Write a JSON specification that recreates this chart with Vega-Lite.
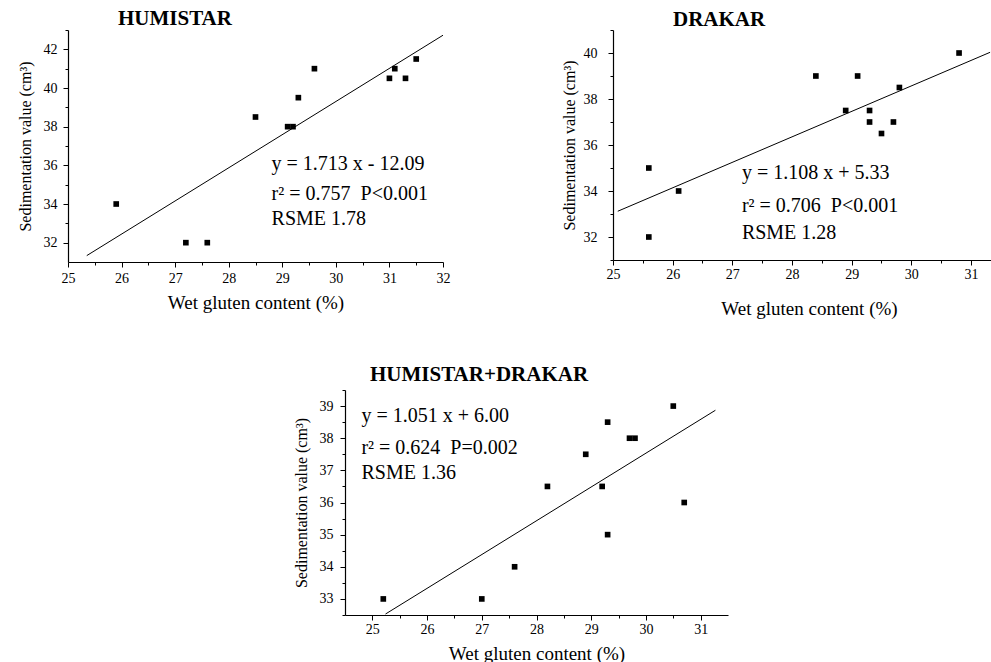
{
  "$schema": "https://vega.github.io/schema/vega-lite/v6.json",
  "padding": {"left": 17, "top": 7, "right": 0, "bottom": 0},
  "background": "white",
  "datasets": {
    "h_pts": [{"x":25.9,"y":34},{"x":27.2,"y":32},{"x":27.6,"y":32},{"x":28.5,"y":38.5},{"x":29.1,"y":38},{"x":29.2,"y":38},{"x":29.3,"y":39.5},{"x":29.6,"y":41},{"x":31.0,"y":40.5},{"x":31.1,"y":41},{"x":31.3,"y":40.5},{"x":31.5,"y":41.5}],
    "h_fit": [{"x":25.35,"y":31.33},{"x":32,"y":42.73}],
    "h_txt": [{"x":28.8,"y":36.07,"label":"y = 1.713 x - 12.09"},{"x":28.8,"y":34.52,"label":"r² = 0.757\u00a0 P<0.001"},{"x":28.8,"y":33.22,"label":"RSME 1.78"}],
    "d_pts": [{"x":25.6,"y":35},{"x":25.6,"y":32},{"x":26.1,"y":34},{"x":28.4,"y":39},{"x":28.9,"y":37.5},{"x":29.1,"y":39},{"x":29.3,"y":37.5},{"x":29.3,"y":37},{"x":29.5,"y":36.5},{"x":29.7,"y":37},{"x":29.8,"y":38.5},{"x":30.8,"y":40}],
    "d_fit": [{"x":25.08,"y":33.12},{"x":31.32,"y":40.03}],
    "d_txt": [{"x":27.16,"y":34.77,"label":"y = 1.108 x + 5.33"},{"x":27.16,"y":33.35,"label":"r² = 0.706\u00a0 P<0.001"},{"x":27.16,"y":32.16,"label":"RSME 1.28"}],
    "hd_pts": [{"x":25.2,"y":33},{"x":27.0,"y":33},{"x":27.6,"y":34},{"x":28.2,"y":36.5},{"x":28.9,"y":37.5},{"x":29.2,"y":36.5},{"x":29.3,"y":38.5},{"x":29.3,"y":35},{"x":29.7,"y":38},{"x":29.8,"y":38},{"x":30.5,"y":39},{"x":30.7,"y":36}],
    "hd_fit": [{"x":25.24,"y":32.53},{"x":31.27,"y":38.87}],
    "hd_txt": [{"x":24.8,"y":38.69,"label":"y = 1.051 x + 6.00"},{"x":24.8,"y":37.7,"label":"r² = 0.624\u00a0 P=0.002"},{"x":24.8,"y":36.92,"label":"RSME 1.36"}]
  },
  "vconcat": [
    {
      "hconcat": [
        {
          "width": 375, "height": 232,
          "title": {"text": "HUMISTAR", "anchor": "start", "frame": "group", "dx": 50, "offset": 1},
          "layer": [
            {"data": {"name": "h_pts"}, "mark": {"type": "square", "size": 32, "color": "black", "opacity": 1},
             "encoding": {
               "x": {"field": "x", "type": "quantitative", "scale": {"domain": [25, 32], "nice": false, "zero": false},
                     "axis": {"values": [25,26,27,28,29,30,31,32], "tickSize": 5, "title": "Wet gluten content (%)", "labelPadding": 4, "titlePadding": 8}},
               "y": {"field": "y", "type": "quantitative", "scale": {"domain": [31, 43], "nice": false, "zero": false},
                     "axis": {"values": [32,34,36,38,40,42], "tickSize": 5, "title": "Sedimentation value (cm³)", "labelPadding": 6, "titlePadding": 10}}
             }},
            {"data": {"name": "h_fit"}, "mark": {"type": "line", "color": "black", "strokeWidth": 1},
             "encoding": {
               "x": {"field": "x", "type": "quantitative", "scale": {"domain": [25, 32], "nice": false, "zero": false},
                     "axis": {"orient": "bottom", "values": [25.5,26.5,27.5,28.5,29.5,30.5,31.5], "tickSize": 3, "labels": false, "domain": false, "title": null}},
               "y": {"field": "y", "type": "quantitative", "scale": {"domain": [31, 43], "nice": false, "zero": false},
                     "axis": {"orient": "left", "values": [33,35,37,39,41,43], "tickSize": 3, "labels": false, "domain": false, "title": null}}
             }},
            {"data": {"name": "h_txt"}, "mark": {"type": "text", "align": "left", "baseline": "middle", "font": "Liberation Serif", "fontSize": 20, "color": "black"},
             "encoding": {
               "x": {"field": "x", "type": "quantitative", "scale": {"domain": [25, 32], "nice": false, "zero": false}, "axis": null},
               "y": {"field": "y", "type": "quantitative", "scale": {"domain": [31, 43], "nice": false, "zero": false}, "axis": null},
               "text": {"field": "label"}
             }}
          ],
          "resolve": {"axis": {"x": "independent", "y": "independent"}}
        },
        {
          "width": 392, "height": 230,
          "title": {"text": "DRAKAR", "anchor": "start", "frame": "group", "dx": 60, "offset": 0},
          "layer": [
            {"data": {"name": "d_pts"}, "mark": {"type": "square", "size": 32, "color": "black", "opacity": 1},
             "encoding": {
               "x": {"field": "x", "type": "quantitative", "scale": {"domain": [25, 31.57], "nice": false, "zero": false},
                     "axis": {"values": [25,26,27,28,29,30,31], "tickSize": 5, "title": "Wet gluten content (%)", "labelPadding": 2, "titlePadding": 18}},
               "y": {"field": "y", "type": "quantitative", "scale": {"domain": [31, 41], "nice": false, "zero": false},
                     "axis": {"values": [32,34,36,38,40], "tickSize": 5, "title": "Sedimentation value (cm³)", "labelPadding": 11, "titlePadding": 6}}
             }},
            {"data": {"name": "d_fit"}, "mark": {"type": "line", "color": "black", "strokeWidth": 1},
             "encoding": {
               "x": {"field": "x", "type": "quantitative", "scale": {"domain": [25, 31.57], "nice": false, "zero": false},
                     "axis": {"orient": "bottom", "values": [25.5,26.5,27.5,28.5,29.5,30.5,31.5], "tickSize": 3, "labels": false, "domain": false, "title": null}},
               "y": {"field": "y", "type": "quantitative", "scale": {"domain": [31, 41], "nice": false, "zero": false},
                     "axis": {"orient": "left", "values": [31,33,35,37,39,41], "tickSize": 3, "labels": false, "domain": false, "title": null}}
             }},
            {"data": {"name": "d_txt"}, "mark": {"type": "text", "align": "left", "baseline": "middle", "font": "Liberation Serif", "fontSize": 20, "color": "black"},
             "encoding": {
               "x": {"field": "x", "type": "quantitative", "scale": {"domain": [25, 31.57], "nice": false, "zero": false}, "axis": null},
               "y": {"field": "y", "type": "quantitative", "scale": {"domain": [31, 41], "nice": false, "zero": false}, "axis": null},
               "text": {"field": "label"}
             }}
          ],
          "resolve": {"axis": {"x": "independent", "y": "independent"}}
        }
      ],
      "spacing": 111
    },
    {
      "width": 383, "height": 225,
      "title": {"text": "HUMISTAR+DRAKAR", "anchor": "start", "frame": "group", "dx": 25, "offset": 5},
      "layer": [
        {"data": {"name": "hd_pts"}, "mark": {"type": "square", "size": 32, "color": "black", "opacity": 1},
         "encoding": {
           "x": {"field": "x", "type": "quantitative", "scale": {"domain": [24.5, 31.5], "nice": false, "zero": false},
                 "axis": {"values": [25,26,27,28,29,30,31], "tickSize": 5, "title": "Wet gluten content (%)", "labelPadding": 2, "titlePadding": 8}},
           "y": {"field": "y", "type": "quantitative", "scale": {"domain": [32.5, 39.5], "nice": false, "zero": false},
                 "axis": {"values": [33,34,35,36,37,38,39], "tickSize": 5, "title": "Sedimentation value (cm³)", "labelPadding": 7, "titlePadding": 10}}
         }},
        {"data": {"name": "hd_fit"}, "mark": {"type": "line", "color": "black", "strokeWidth": 1},
         "encoding": {
           "x": {"field": "x", "type": "quantitative", "scale": {"domain": [24.5, 31.5], "nice": false, "zero": false},
                 "axis": {"orient": "bottom", "values": [25.5,26.5,27.5,28.5,29.5,30.5], "tickSize": 3, "labels": false, "domain": false, "title": null}},
           "y": {"field": "y", "type": "quantitative", "scale": {"domain": [32.5, 39.5], "nice": false, "zero": false},
                 "axis": {"orient": "left", "values": [32.5,33.5,34.5,35.5,36.5,37.5,38.5,39.5], "tickSize": 3, "labels": false, "domain": false, "title": null}}
         }},
        {"data": {"name": "hd_txt"}, "mark": {"type": "text", "align": "left", "baseline": "middle", "font": "Liberation Serif", "fontSize": 20, "color": "black"},
         "encoding": {
           "x": {"field": "x", "type": "quantitative", "scale": {"domain": [24.5, 31.5], "nice": false, "zero": false}, "axis": null},
           "y": {"field": "y", "type": "quantitative", "scale": {"domain": [32.5, 39.5], "nice": false, "zero": false}, "axis": null},
           "text": {"field": "label"}
         }}
      ],
      "resolve": {"axis": {"x": "independent", "y": "independent"}}
    }
  ],
  "spacing": 45,
  "center": true,
  "config": {
    "view": {"stroke": null},
    "title": {"font": "Liberation Serif", "fontSize": 21, "fontWeight": "bold", "color": "black"},
    "axisX": {"titleFontSize": 19},
    "axisY": {"titleFontSize": 16},
    "axis": {"labelFont": "Liberation Serif", "titleFont": "Liberation Serif", "labelFontSize": 14, "titleFontWeight": "normal", "labelColor": "black", "titleColor": "black", "domainColor": "black", "tickColor": "black", "grid": false, "labelFlush": false, "labelOverlap": false, "domainWidth": 1.2, "tickWidth": 1}
  }
}
